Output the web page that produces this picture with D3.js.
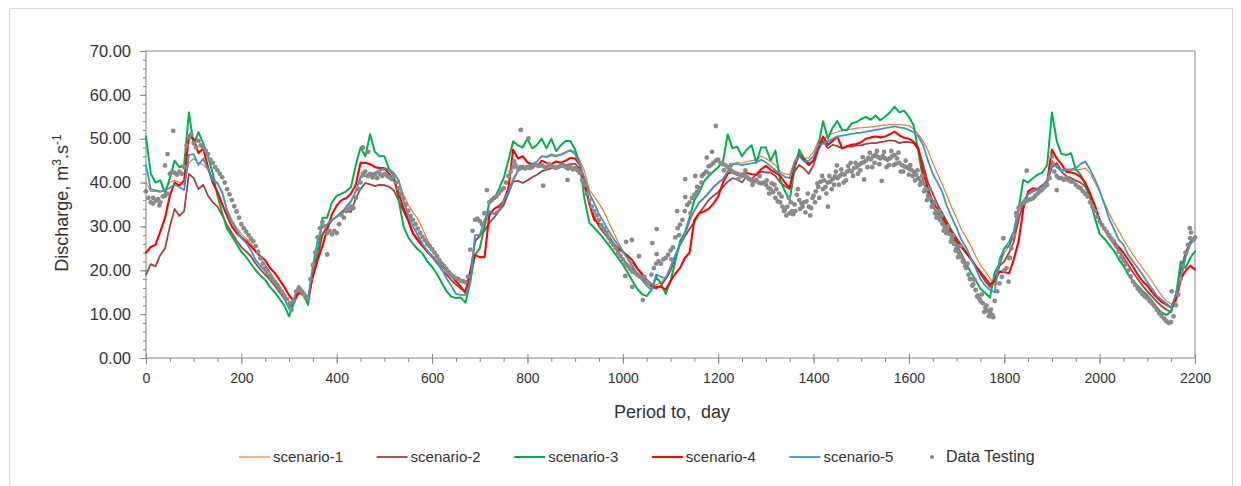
<!DOCTYPE html>
<html>
<head>
<meta charset="utf-8">
<script src="https://cdn.jsdelivr.net/npm/d3@7"></script>
<style>
body { margin: 0; background: #fff; }
svg text { font-family: "Liberation Sans", Arial, sans-serif; fill: #333; }
</style>
</head>
<body>
<svg id="chart" width="1241" height="486"></svg>
<script>

// scenario lines, one value every 10 days from day 0 to 2200
var dayStep = 10;

var scenario1 = [
 40,38,38,37.8,38.5,40,40.5,40,39.5,44.5,
 45.5,44.5,44,43,41,40,37.5,34,31.5,29.8,
 28.2,27.2,26.2,24.5,22.8,21.3,19.6,18,16.5,14.8,
 12.8,13.2,15.8,15,13.8,20,25,28.5,30,31.2,
 32.3,33.5,34.2,35.5,38,41,41.5,41.5,42,42.5,
 43,42.8,42.2,40.5,37.2,35,33.2,31.7,29.5,27,
 25,23.5,21.8,19.6,17.8,16.6,15.8,15.3,17.5,27,
 27.5,30,33,33,34,36,38.5,41,43,43.5,
 43.8,44.2,44.8,46,46,46.5,46.2,46.5,47,47.5,
 47,45,42.5,38.3,36.8,35.2,33.5,31,28.8,26.5,
 24.5,22.8,21.6,20.2,18.8,17.8,17,16.7,17.2,18.5,
 21,23.5,25.8,28,31,33.5,35.2,36.3,37.5,38.8,
 39.8,40.8,42.6,44.3,44.6,44.4,44.8,45,45.2,46,
 45.5,44.8,44,42.5,42,41.8,45,46.7,45.5,45.7,
 47,49.5,50,50.6,51.2,51.6,51.8,52,52.2,52.4,
 52.5,52.6,52.7,52.8,53,53.1,53.2,53.2,53.2,53.1,
 53,52.2,51,49.4,47.3,44.5,42,39.5,37,34.2,
 31.9,29.3,27.5,25.5,23.2,21.2,19.8,18.2,16.5,21,
 24,25.5,27.5,32,35,37.2,38,38.6,39.5,40.5,
 45,44,43,42.8,42.8,42.9,43,43.3,42.2,40,
 38,35.5,33,30.8,29,27,25.2,23.5,22,20.5,
 19,17.5,15.8,14.2,13,12.3,12.5,17,22.5,25.8,
 27.5
];

var scenario2 = [
 19,21.4,20.9,23.5,25,30,34,32.4,33.5,42,
 41,38.5,39.5,37,35.5,34.5,32.5,30.3,28.5,26.8,
 25.3,24.3,23.2,21.5,20.2,19,17.8,16.5,15,13.5,
 11.5,12.5,15,14.8,13.5,19,23,28,30,31.5,
 32.2,33.2,33.5,33.3,36.5,38.5,39.9,39.6,39.2,39.5,
 39.4,39,38.2,35.8,33.5,31.2,28.5,27.2,25.8,24.2,
 23,21.7,20.2,19,17.8,16.8,15.9,15.1,19.5,26.5,
 28,29,30.8,32,33.5,34.8,37.5,40.2,40.4,39.9,
 40.5,41.2,41.8,42.6,42.9,43.3,43.7,43.5,44,44.2,
 44.3,43,39,35.5,32.3,30,28.5,27.2,25.8,24.3,
 22.5,21.4,20.3,19.2,18.1,17.3,16.2,15.8,16.5,18,
 19.9,23,25.8,27.7,29.4,31,33,34.5,36,37,
 37.8,39,40.2,41,40.7,40,41.5,40.8,41.8,42.5,
 42.3,42.3,41.5,40,39.2,38.5,42.5,44,43.2,42,
 44,47.5,49.5,47.8,48.6,48.3,47.8,48.2,48.2,48.5,
 48.5,48.8,49,49,49.2,49.4,49.6,49.5,49,49.3,
 49.2,49,47.5,44,40,37.5,35,33,31,29,
 27.3,25.8,24.1,22.5,20.8,19.2,17.5,16.2,18,21,
 22,24,26.5,31.5,35,37.5,38,38.5,39.3,40,
 43.5,44.5,42.5,41.5,41,40.5,40,39,37,34.5,
 31.5,29.5,27.5,26,24.5,23,21.2,19.5,18,16.5,
 15.2,14,12.8,11.8,11,10.5,14.5,20,24,26.5,
 27
];

var scenario3 = [
 50.5,42,40,40.5,37.6,41,45,43.5,44,56,
 48.6,51.5,49,46,42,37,33,29.5,27.8,26,
 24.2,23,21.5,20,18.8,17.8,16.2,15,13.5,12,
 9.5,12.5,15.8,14.5,12.1,20,24,32,32,35.5,
 37,37.5,38,39,44,48,46,51,47,46,
 46,43,41.5,36,30,27.5,26,24.8,23.8,22,
 20.8,19.2,17.2,15.3,14,13.7,13.8,12.6,17.4,23.5,
 25,30,35.5,36.2,38.5,41,45,49.4,48.5,48,
 50,47.8,48.6,50,47.8,50,47.2,48.5,49.5,49.5,
 47.5,44,36,30.8,29.7,28.5,27.2,25.8,24.3,22.8,
 21.3,19.5,17.6,15.8,14.6,14.1,15.5,18.5,17,14.6,
 17.5,22,26.6,28.5,32,36,37.7,40.2,41.5,42.5,
 43.5,44.8,51,47.8,48.2,46,47.5,48.5,44.5,48,
 48,45,47.3,40.6,38,36,43,47.5,45.5,44.4,
 45,48.5,54,50,52.5,54,52,52,53.5,53.8,
 54.5,55,54.3,55.3,54.2,55,56,57.3,56,56.4,
 55,53,47,40.2,37.5,34.5,33,31.5,29.5,27.6,
 25.8,23.8,21.5,19.5,17.8,15.8,14.8,13.8,19.5,21.5,
 25,25.5,28.5,34,40.6,40,41,41.8,42.3,44,
 56,49.5,46.5,46.3,46.7,43,41.8,39.5,36.4,31.9,
 28.3,27.2,25.8,24.5,22.5,21,19,17.5,16.5,15.3,
 14.3,13,11.5,10.4,9.8,10.6,14,22,20.5,22.8,
 24.3
];

var scenario4 = [
 24,25.3,25.8,28.8,32,37,40,39.3,40.5,50.5,
 50,46.7,47.8,43.5,40,37.8,35,32.4,30,28.5,
 27.5,26.6,25.5,24.3,23.2,22.3,20.5,19.4,17.8,16.2,
 14.3,13,14.8,14.5,13.6,18.5,22.3,25.5,29.3,32.8,
 34.8,36,36.4,37.5,39.5,44.5,44.5,44.2,43.5,43.3,
 43.3,42,40.5,37.5,34.2,31.5,28.3,26.8,25.5,24.3,
 23.2,22,21,20,18.8,17.5,16.3,14.8,19.7,23.5,
 23,23,32.5,34,34.6,35.7,38.7,47.5,45.5,46,
 44.6,44.2,43.7,45,44.5,44.2,44.8,44.5,45,45.6,
 45.5,44,40,35,31.5,30.6,29.5,27.8,26.2,25,
 24.2,23.3,22.3,20.5,19.2,17.8,16.6,16.2,16.3,15.6,
 17.5,19.2,20.5,22.8,24,31.5,33,33.4,34,35.2,
 36.8,40,42,42.5,41.8,42,42.2,41.9,41.8,43,
 43.8,42.9,42.3,41.5,40,38.8,44,46.2,45.2,44,
 45,47.8,50.5,48.6,49.5,50.5,47.8,48.3,48.6,48.8,
 49.2,50,50.3,50.5,50.3,50.5,51,51.6,50.8,50.2,
 50,49.3,47.8,42.5,38.5,35.5,34,32.2,30.4,28.5,
 26.6,25.3,24,22.6,21,19.6,18.2,16.8,17.5,19.7,
 19.6,19.3,22.5,26.6,34,38,38.7,38.5,39.3,40.3,
 47.5,45.5,44.2,42.5,42.3,42,41.3,40,37.5,34.8,
 31.5,29.3,27.7,26.5,25.3,24,22.4,20.8,19,17.5,
 16.5,15,13.8,12.8,12.2,11.5,13.5,18,19.8,21,
 20.2
];

var scenario5 = [
 44,38.5,38.2,38,38.2,38.8,39.5,39,38.3,46.3,
 46.5,44,45.5,43,40.5,39.8,37.8,33.5,31,29.2,
 27.4,26.2,24.6,22.3,21,19.8,18.2,17,15.6,13.8,
 11.2,13.5,16.5,15.2,13.6,21,27,30,30.5,31.5,
 32.2,33,34.5,35.8,38,41.4,41.6,41.8,42.3,42.8,
 43.3,43,42.2,40.5,36,32.5,30,28,26,24.5,
 23,22,20.3,18.2,16.5,14.6,14.4,14.4,17,28,
 28,31.5,33.5,32.8,33.5,35.8,38,40.5,42.6,43.2,
 43.7,44.2,44.8,46,45.8,46.2,46,46.3,46.8,47.3,
 46.5,44,41,37.5,35.3,32.8,31,29,27.3,25.8,
 24.3,22.6,21,19.2,17.8,16.5,15.5,19,18.5,18.2,
 20.5,23.5,25.8,28.2,31.5,33.6,35.5,36.5,37.7,39,
 40,40.8,42.5,44.2,44.2,44,44.2,44.4,44.6,45.2,
 44.6,43.7,42.8,42,41.3,41,44.5,46,44.8,45,
 46,48.6,48.8,49.4,50,50.5,50.7,50.9,51.1,51.3,
 51.4,51.6,51.8,52,52.2,52.4,52.6,52.8,52.6,52.4,
 52,51.5,50.5,48.5,45,42,40,37.8,34.5,32,
 29.6,27,25.2,22.8,20.5,18,16.5,15.5,15,22.5,
 25,26.5,29,33.5,35.8,37.4,38,38.5,39.3,40.3,
 44.5,43.5,42.6,43,43,43.3,44.2,44.8,43,40.8,
 38.2,35,31.8,29.4,27,25.8,23.5,22,20.5,19,
 17.3,15.8,14.2,13.3,12.4,11.5,14.5,18,23,26,
 27
];

// measured data, one value every 5 days from day 0 to 2200
var testStep = 5;
var testValues = [
 38,36.5,35.5,35.2,35.8,36.2,35.5,36.8,37,37.5,42,42.5,42.2,41.8,42.5,42,43.5,48.5,50.5,51,
 49,48,49.5,48.5,48,47.3,46.5,45.2,44.5,43.5,42.8,42,41.2,40,38.5,37.3,36,34.6,33.4,32,
 30.5,29.6,28.8,28,27.2,26.6,25.5,24.2,22.8,21.5,20.5,19.8,18.8,18,17.3,16.6,15.8,15,14.2,13.5,
 12.3,11,13,15.2,15.8,15.3,14.6,13.8,13.5,18,21.2,24,27.5,29.6,31,30,28.5,29,28.2,29,
 28.5,30.5,32.6,32,33.5,34,34.5,34.2,36.5,38.5,40,42,42.5,41.5,42,41.2,41.8,41,42,41.5,
 42,41.6,41.2,40.8,41.5,40,38.7,37.5,36.4,35,33.6,32.4,31.5,30.5,29.5,28.5,27.6,26.8,26,25.5,
 24.8,24,23.2,22.3,21.5,21,20.3,19.6,19,18.6,18.2,18,17.6,17.5,17.3,18.5,24.7,29,31.5,31.8,
 31.2,30.5,33,38.3,35.5,36,36.5,36.8,37.5,38.2,38.7,40,41.5,42.5,43.5,44,43.2,43.5,43.6,43.2,
 43.5,43.3,43.5,44,44,43.8,44,43.6,43.5,44.2,43.8,43.5,43.3,43.6,43.8,44,43.5,43.2,43.6,43,
 43.3,42.8,42.2,40.5,39.5,37.5,36,34.5,33.5,32.5,31.5,30.3,29.5,28.5,27.5,26.5,25.8,25,24,23.3,
 22.5,21.5,21,20.3,19.7,19.5,19,18.6,18.3,18.5,17.4,17,19,20.5,21.5,22,21.5,22.5,22.8,23.5,
 24.5,25.2,27.5,29.6,30.4,31.5,33.5,34.9,35.5,36.5,37.2,37.8,38.7,40,42,42.5,43.7,44,44.5,45,
 45.2,44.5,44.2,44,43.5,43,42.5,42.2,42,41.8,41.5,41.8,41.2,40.8,40.5,40.2,40.6,40,39.8,40,
 39.5,38.8,38.5,37.8,36.5,35.7,35.5,34.5,33.8,34.5,33,33.5,35,37.2,36,35.2,35.5,35.7,34.5,34.2,
 37,38,39,40.2,38.5,39,40,40.2,40.8,41.4,41,41.5,42,41.8,42.5,42.8,42.5,43.3,43.5,44,
 44.4,44.6,45,45.6,45.3,46,46.3,45.8,45.5,46,45.5,45.2,45.5,46,46.3,45.5,44.5,44,43.7,43.5,
 43.2,42.9,42.5,41.8,41,40.2,39.9,38.5,37,36.4,34.5,33,32.3,31.5,30.6,29.8,29.2,28.3,27.2,26,
 25,24,23,22,20.5,19,18,16.8,15.5,14.3,13,12.5,11.5,10.8,10.2,9.8,13,15.2,17,18.5,
 20,20.5,22.8,25,28,33,34.2,35,35.3,35.7,36,36.2,36.4,37,37.5,38,38.4,39,39.5,41,
 45.9,42.5,41.5,41,41,40.6,41,40.5,40.2,40.2,39.5,39,38.7,38,37.4,36.8,35.5,34.5,33.5,32.2,
 31.1,30.3,29.5,28.8,28,27.2,26.6,25.5,24.2,23,22.2,21.3,20,18.6,17.4,16.6,15.8,15.2,14.5,14,
 13.6,13,12.4,11.8,11,10.2,9.6,9,8.4,8,8.2,9.5,12,14.4,18,21,24,25.8,27.3,27,
 27.5
];

// measured points scattered off the main band
var testExtraDays = [
 15,28,40,45,57,380,455,466,772,786,802,833,884,
 1005,1007,1019,1020,1034,1042,1062,1071,1071,1102,1114,1118,1131,1131,1142,1152,1156,1166,1176,1182,1187,1195,
 1212,1227,1242,1257,1272,1287,
 1302,1307,1312,1318,1322,1328,1333,1338,1343,1348,1352,1357,1362,1367,1372,1377,1383,1388,1393,1398,
 1403,1408,1412,1418,1422,1427,1430,1433,1438,1443,1447,1449,1453,1458,1463,1468,1473,1478,1483,1488,1493,1498,
 1503,1506,1513,1518,1523,1528,1533,1538,1543,1548,1553,1558,1563,1568,1573,1578,1583,1588,1593,1600,
 1603,1608,1613,1618,1623,1628,1632,1638,1643,1648,1653,1658,1663,1668,1673,1678,1683,1688,1693,1698,
 1703,1708,1713,1718,1723,1728,1733,1738,1743,1748,1753,1758,1763,1768,1772,1777,
 1798,1809,1812,1826,1847,1910,2151,2189,2192
];
var testExtraValues = [
 36.5,34.8,43.9,46.5,51.8,23.6,48,47,44.8,52,50.1,39.3,40.6,
 18.7,26.5,26.9,16.2,23.2,13.2,26.2,29.4,23.7,22.5,33.5,28,36.7,40.8,33,41.5,39,41.5,45.7,42,47,52.9,
 42.8,44,40.8,42.8,39.5,41.5,
 40.5,37.5,39.8,39.5,38.5,37.5,36.8,33.5,32.5,36.5,35.5,32.8,33.5,38.5,34,34.5,33.2,37.5,32.5,36.5,
 35.5,39.8,36.5,41.5,40.5,37.5,34.5,41.5,38.5,39.5,42.5,43.9,39.5,43,40,40.5,43.8,44.5,41.5,44.5,42,42.8,
 45.8,40.7,43.5,46.8,43.5,44.5,47.2,44.2,40.4,47,43.5,44,47.2,44,44.3,46.8,42.5,42.5,45,41.8,
 44,41.5,40.5,42.8,39.5,41.5,38,36,38.5,34.5,35.5,32,33.5,32.5,29,28.5,30,26.5,28,24.5,
 23,25.5,22,21,21.5,18,16.5,17.8,14,13.5,14.5,10.5,12,9.5,11,9.3,
 27.3,17.4,22.8,32.3,42.7,38.3,15.2,29.6,28.6
];

var seriesNames = ['scenario-1', 'scenario-2', 'scenario-3', 'scenario-4', 'scenario-5'];
var testName = 'Data Testing';
var xTicks = [0, 200, 400, 600, 800, 1000, 1200, 1400, 1600, 1800, 2000, 2200];
var yTicks = [0, 10, 20, 30, 40, 50, 60, 70];

var colors = ['#ED7D31', '#A5423F', '#00B050', '#FF0000', '#3F96C4'];
var widths = [1.2, 1.8, 2, 2.1, 1.8];
var dotColor = '#8a8a8a';

var svg = d3.select('#chart');

// chart frame
svg.append('rect')
    .attr('x', 9.5).attr('y', 8.5)
    .attr('width', 1223).attr('height', 490)
    .attr('fill', 'none')
    .attr('stroke', '#d9d9d9');

var x = d3.scaleLinear().domain([0, 2200]).range([146, 1195]);
var y = d3.scaleLinear().domain([0, 70]).range([358, 51]);

// plot border
svg.append('rect')
    .attr('x', x(0)).attr('y', y(70))
    .attr('width', x(2200) - x(0)).attr('height', y(0) - y(70))
    .attr('fill', 'none')
    .attr('stroke', '#868686')
    .attr('stroke-width', 1);

var axisColor = '#868686';

var yMinor = svg.append('g')
    .attr('transform', 'translate(' + x(0) + ',0)')
    .call(d3.axisLeft(y).ticks(35).tickSize(3).tickFormat(''));
yMinor.select('.domain').remove();
yMinor.selectAll('line').attr('stroke', axisColor);

var yAxis = svg.append('g')
    .attr('transform', 'translate(' + x(0) + ',0)')
    .call(d3.axisLeft(y).tickValues(yTicks).tickSize(6).tickPadding(9).tickFormat(d3.format('.2f')));
yAxis.select('.domain').remove();
yAxis.selectAll('line').attr('stroke', axisColor);
yAxis.selectAll('text').attr('font-size', 16.5).attr('fill', '#333').style('font-family', '"Liberation Sans", Arial, sans-serif');

var xMinor = svg.append('g')
    .attr('transform', 'translate(0,' + y(0) + ')')
    .call(d3.axisBottom(x).ticks(55).tickSize(4).tickFormat(''));
xMinor.select('.domain').remove();
xMinor.selectAll('line').attr('stroke', axisColor);

var xAxis = svg.append('g')
    .attr('transform', 'translate(0,' + y(0) + ')')
    .call(d3.axisBottom(x).tickValues(xTicks).tickSize(6).tickPadding(9).tickFormat(d3.format('d')));
xAxis.select('.domain').remove();
xAxis.selectAll('line').attr('stroke', axisColor).attr('y1', -4);
xAxis.selectAll('text').attr('font-size', 14).attr('fill', '#333').style('font-family', '"Liberation Sans", Arial, sans-serif');

// axis titles
svg.append('text')
    .attr('x', 672).attr('y', 418)
    .attr('text-anchor', 'middle')
    .attr('font-size', 18)
    .style('white-space', 'pre')
    .text('Period to,  day');

var yTitle = svg.append('text')
    .attr('transform', 'translate(68,203) rotate(-90)')
    .attr('text-anchor', 'middle')
    .attr('font-size', 18);
yTitle.append('tspan').text('Discharge, m');
yTitle.append('tspan').attr('dy', -7).attr('font-size', 12).text('3');
yTitle.append('tspan').attr('dy', 7).text('.s');
yTitle.append('tspan').attr('dy', -7).attr('font-size', 12).text('-1');

// scenario lines
var allScenarios = [scenario1, scenario2, scenario3, scenario4, scenario5];

var line = d3.line()
    .x(function(d, i) { return x(i * dayStep); })
    .y(function(d) { return y(d); });

svg.append('g').selectAll('path')
    .data(allScenarios)
    .join('path')
    .attr('fill', 'none')
    .attr('stroke', function(d, i) { return colors[i]; })
    .attr('stroke-width', function(d, i) { return widths[i]; })
    .attr('stroke-linejoin', 'round')
    .attr('stroke-linecap', 'round')
    .attr('d', line);

// measured points
var dots = svg.append('g').attr('fill', dotColor);

dots.selectAll('circle.band')
    .data(testValues)
    .join('circle')
    .attr('class', 'band')
    .attr('cx', function(d, i) { return x(i * testStep); })
    .attr('cy', function(d) { return y(d); })
    .attr('r', 2.4);

dots.selectAll('circle.extra')
    .data(testExtraValues)
    .join('circle')
    .attr('class', 'extra')
    .attr('cx', function(d, i) { return x(testExtraDays[i]); })
    .attr('cy', function(d) { return y(d); })
    .attr('r', 2.4);

// legend
var legend = svg.append('g').attr('font-size', 15);
var legendY = 457;
var pitch = 137.6;

seriesNames.forEach(function(name, i) {
    var lx = 239 + i * pitch;
    legend.append('line')
        .attr('x1', lx).attr('x2', lx + 31)
        .attr('y1', legendY).attr('y2', legendY)
        .attr('stroke', colors[i])
        .attr('stroke-width', widths[i]);
    legend.append('text')
        .attr('x', lx + 34).attr('y', legendY + 5)
        .text(name);
});

var dx = 239 + 5 * pitch;
legend.append('circle')
    .attr('cx', dx + 5).attr('cy', legendY)
    .attr('r', 2)
    .attr('fill', dotColor);
legend.append('text')
    .attr('x', dx + 19).attr('y', legendY + 5)
    .attr('font-size', 16)
    .text(testName);

</script>
</body>
</html>
